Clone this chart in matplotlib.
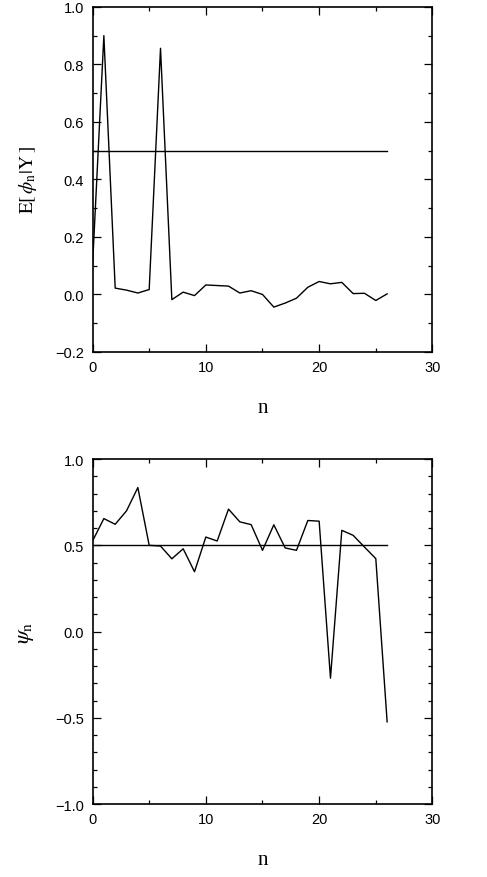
import matplotlib
matplotlib.use("Agg")
import matplotlib.pyplot as plt
from matplotlib.ticker import MultipleLocator, FuncFormatter

plt.rcParams['font.family'] = ['Liberation Sans', 'DejaVu Sans']
plt.rcParams['mathtext.fontset'] = 'stix'

# data
n = list(range(27))
e_phi = [0.10, 0.90, 0.022, 0.015, 0.005, 0.017, 0.856, -0.018, 0.008, -0.004,
         0.033, 0.031, 0.029, 0.005, 0.013, 0.0, -0.044, -0.03, -0.013, 0.025,
         0.045, 0.037, 0.042, 0.003, 0.004, -0.021, 0.002]
psi = [0.525, 0.655, 0.622, 0.70, 0.835, 0.50, 0.496, 0.422, 0.48, 0.347,
       0.548, 0.525, 0.71, 0.636, 0.62, 0.471, 0.619, 0.485, 0.471, 0.644,
       0.64, -0.27, 0.587, 0.558, 0.49, 0.423, -0.523]
ref_level = 0.5
ref_span = [0, 26]

fig = plt.figure(figsize=(4.87, 8.78), dpi=100)
ax1 = fig.add_axes([0.190, 0.598, 0.698, 0.393])
ax2 = fig.add_axes([0.190, 0.083, 0.698, 0.393])

minus_fmt = FuncFormatter(lambda v, p: ('%.1f' % v).replace('-', '\u2212'))


def style(ax):
    ax.tick_params(which='both', direction='in', top=True, right=True,
                   width=0.9, labelsize=10.5)
    ax.tick_params(which='major', length=6, pad=6)
    ax.tick_params(which='minor', length=3)
    for s in ax.spines.values():
        s.set_linewidth(1.2)
    ax.set_xlim(0, 30)
    ax.xaxis.set_major_locator(MultipleLocator(10))
    ax.xaxis.set_minor_locator(MultipleLocator(5))
    ax.yaxis.set_major_formatter(minus_fmt)
    ax.set_xlabel('n', family='Liberation Serif', fontsize=15, labelpad=17)


ax1.plot(n, e_phi, color='black', lw=1.0)
ax1.plot(ref_span, [ref_level, ref_level], color='black', lw=1.0)
ax1.set_ylim(-0.2, 1.0)
ax1.yaxis.set_major_locator(MultipleLocator(0.2))
ax1.yaxis.set_minor_locator(MultipleLocator(0.1))
style(ax1)
ax1.set_ylabel(r'$\mathrm{E}[\,\phi_{\mathrm{n}}|\mathrm{Y}\,]$', fontsize=14, labelpad=12)

ax2.plot(n, psi, color='black', lw=1.0)
ax2.plot(ref_span, [ref_level, ref_level], color='black', lw=1.0)
ax2.set_ylim(-1.0, 1.0)
ax2.yaxis.set_major_locator(MultipleLocator(0.5))
ax2.yaxis.set_minor_locator(MultipleLocator(0.1))
style(ax2)
ax2.set_ylabel(r'$\psi_{\mathrm{n}}$', fontsize=16, labelpad=14)

fig.savefig('out.png', dpi=100)
